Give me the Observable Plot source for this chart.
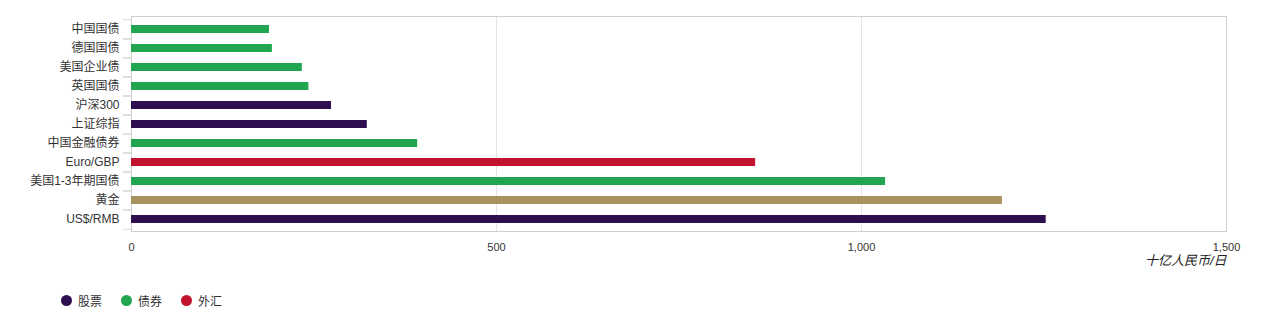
<!DOCTYPE html>
<html>
<head>
<meta charset="utf-8">
<script src="https://cdn.jsdelivr.net/npm/d3@7"></script>
<script src="https://cdn.jsdelivr.net/npm/@observablehq/plot@0.6"></script>
<style>
  html, body { margin: 0; padding: 0; background: #fff; }
  body { width: 1271px; height: 323px; overflow: hidden; font-family: "Liberation Sans", "Noto Sans CJK SC", sans-serif; }
  #legend { position: absolute; left: 61px; top: 292px; display: flex; font-size: 12px; color: #333; }
  .item { display: flex; align-items: center; margin-right: 19px; }
  .dot { width: 11px; height: 11px; border-radius: 50%; margin-right: 6px; }
</style>
</head>
<body>
<div id="chart"></div>
<div id="legend"></div>
<script>
const categories = ["中国国债", "德国国债", "美国企业债", "英国国债", "沪深300", "上证综指", "中国金融债券", "Euro/GBP", "美国1-3年期国债", "黄金", "US$/RMB"];
const values = [189, 193, 234, 243, 274, 323, 392, 855, 1033, 1193, 1253];
const types = ["债券", "债券", "债券", "债券", "股票", "股票", "债券", "外汇", "债券", "黄金", "股票"];
const typeNames = ["股票", "债券", "外汇", "黄金"];
const typeColors = ["#2d0e4e", "#21a550", "#c1132d", "#a8925f"];
const legendTypes = ["股票", "债券", "外汇"];
const xTicks = [0, 500, 1000, 1500];
const unitLabel = "十亿人民币/日";

const data = categories.map((c, i) => ({name: c, value: values[i], type: types[i]}));
const step = 215 / 11;

const chart = Plot.plot({
  width: 1271,
  height: 282,
  marginLeft: 131,
  marginRight: 45,
  marginTop: 16,
  marginBottom: 51,
  style: {fontFamily: '"Liberation Sans", "Noto Sans CJK SC", sans-serif', fontSize: "12px", color: "#333", background: "#fff"},
  x: {domain: [0, 1500], ticks: xTicks, tickFormat: d3.format(","), label: null},
  y: {domain: categories, paddingInner: 0.58, paddingOuter: 0.29, label: null},
  color: {domain: typeNames, range: typeColors},
  marks: [
    Plot.gridX(xTicks, {stroke: "#e4e4e4", strokeOpacity: 1}),
    Plot.ruleY(categories, {y: d => d, x1: -11, x2: 0, dy: -step / 2, stroke: "#d8d8d8"}),
    Plot.ruleY(categories, {y: d => d, x1: -11, x2: 0, dy: step / 2, stroke: "#d8d8d8"}),
    Plot.frame({stroke: "#cfcfcf"}),
    Plot.barX(data, {x: "value", y: "name", fill: "type"}),
    Plot.axisX({ticks: xTicks, tickFormat: d3.format(","), tickSize: 0, tickPadding: 12, fontSize: 11, label: null}),
    Plot.axisY({tickSize: 0, tickPadding: 12, fontSize: 12, label: null}),
    Plot.text([unitLabel], {text: d => d, frameAnchor: "bottom-right", textAnchor: "end", dy: 33, fontStyle: "italic", fontSize: 13, fill: "#222"})
  ]
});
document.getElementById("chart").appendChild(chart);

const legend = document.getElementById("legend");
legendTypes.forEach(t => {
  const item = document.createElement("div");
  item.className = "item";
  const dot = document.createElement("span");
  dot.className = "dot";
  dot.style.background = typeColors[typeNames.indexOf(t)];
  const label = document.createElement("span");
  label.textContent = t;
  item.appendChild(dot);
  item.appendChild(label);
  legend.appendChild(item);
});
</script>
</body>
</html>
